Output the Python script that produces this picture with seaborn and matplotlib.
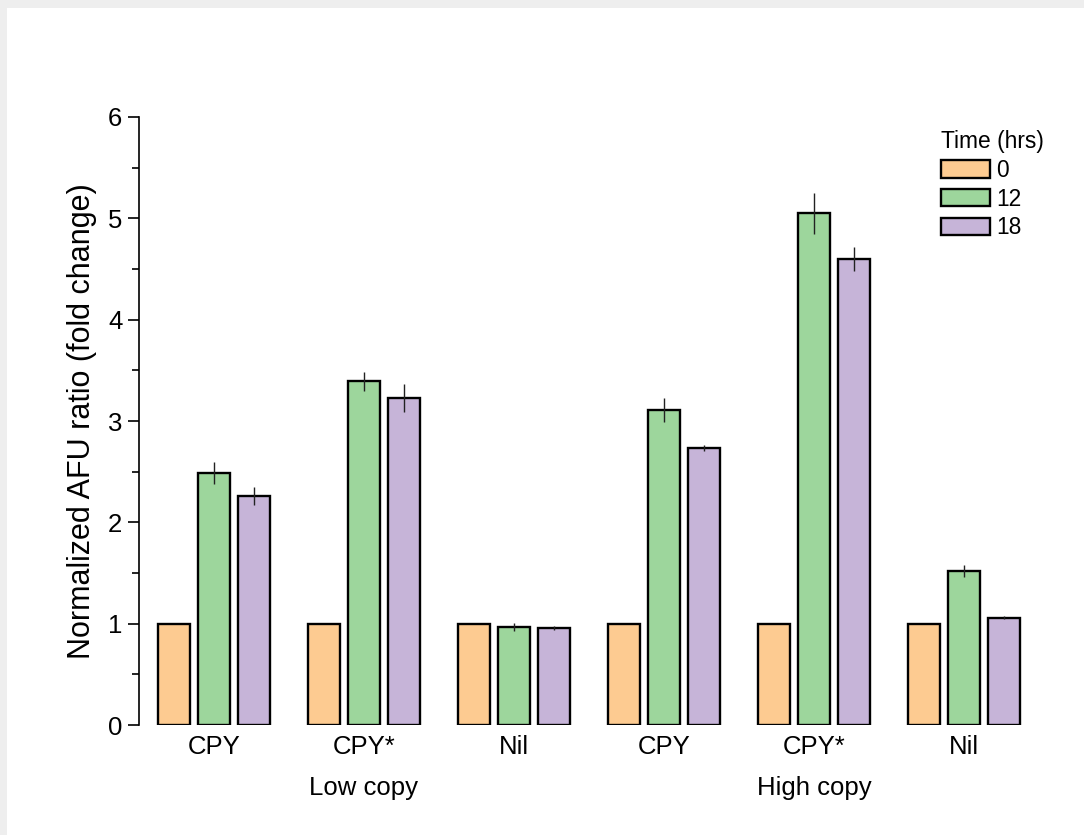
import numpy as np
import pandas as pd
import matplotlib
matplotlib.use("Agg")
import matplotlib.pyplot as plt
from matplotlib.patches import Rectangle, Patch
import seaborn as sns

# data
groups = ["Low copy", "High copy"]
constructs = ["CPY", "CPY*", "Nil"]
times = ["0", "12", "18"]

# values per time point, in order: Low CPY, Low CPY*, Low Nil, High CPY, High CPY*, High Nil
t0_vals = [1.0, 1.0, 1.0, 1.0, 1.0, 1.0]
t12_vals = [2.49, 3.39, 0.97, 3.11, 5.05, 1.52]
t18_vals = [2.26, 3.23, 0.96, 2.73, 4.60, 1.06]

t0_err = [0.0, 0.0, 0.0, 0.0, 0.0, 0.0]
t12_err = [0.11, 0.095, 0.04, 0.12, 0.20, 0.06]
t18_err = [0.09, 0.14, 0.02, 0.03, 0.12, 0.015]

palette = ["#FDCB91", "#9DD69C", "#C6B4D8"]

sns.set_theme(style="white")
plt.rcParams["font.family"] = ["Liberation Sans", "DejaVu Sans"]
plt.rcParams["text.color"] = "black"
plt.rcParams["axes.labelcolor"] = "black"
plt.rcParams["xtick.color"] = "black"
plt.rcParams["ytick.color"] = "black"

# long-format table
cats = [f"{g}|{c}" for g in groups for c in constructs]
rows = []
for t, vals, errs in zip(times, [t0_vals, t12_vals, t18_vals], [t0_err, t12_err, t18_err]):
    for cat, v, e in zip(cats, vals, errs):
        rows.append({"cat": cat, "time": t, "value": v, "err": e})
df = pd.DataFrame(rows)

fig = plt.figure(figsize=(10.84, 8.35), dpi=100)
fig.patch.set_facecolor("#eeeeee")
fig.add_artist(Rectangle((7 / 1084, 0), 1, (835 - 8) / 835, transform=fig.transFigure,
                         facecolor="white", edgecolor="none", zorder=-5))
ax = fig.add_axes([0.1282, 0.1317, 0.8303, 0.7282])
ax.set_facecolor("none")

sns.barplot(data=df, x="cat", y="value", hue="time", order=cats, hue_order=times,
            palette=palette, errorbar=None, width=0.8, gap=0.2,
            edgecolor="black", linewidth=1.7, saturation=1, ax=ax, legend=False)

# error bars, no caps
for container, t in zip(ax.containers, times):
    sub = df[df["time"] == t].set_index("cat").loc[cats]
    xs = [b.get_x() + b.get_width() / 2 for b in container]
    hs = [b.get_height() for b in container]
    errs = sub["err"].values
    mask = errs > 0
    ax.errorbar(np.array(xs)[mask], np.array(hs)[mask], yerr=errs[mask], fmt="none",
                ecolor="#222222", elinewidth=1.0, capsize=0, zorder=5)

ax.set_xlim(-0.5, 5.5)
ax.set_ylim(0, 6)
ax.set_yticks(range(0, 7))
ax.set_yticks(np.arange(0.5, 6, 1), minor=True)
ax.set_xticks(range(len(cats)))
ax.set_xticklabels(constructs * 2, fontsize=18.5)
ax.tick_params(axis="y", which="major", direction="out", length=8, width=1.2,
               left=True, labelsize=18.5, pad=4)
ax.tick_params(axis="y", which="minor", direction="out", length=5, width=1.2, left=True)
ax.tick_params(axis="x", length=0, pad=7)

for s in ["top", "right", "bottom"]:
    ax.spines[s].set_visible(False)
ax.spines["left"].set_color("black")
ax.spines["left"].set_linewidth(1.2)

ax.set_xlabel("")
ax.set_ylabel("Normalized AFU ratio (fold change)", fontsize=22, labelpad=8)

# group labels under the construct names
for i, g in enumerate(groups):
    ax.text(1 + 3 * i, -0.62, g, ha="center", va="center", fontsize=18.5,
            transform=ax.transData)

handles = [Patch(facecolor=c, edgecolor="black", linewidth=1.7) for c in palette]
leg = ax.legend(handles, times, title="Time (hrs)", loc="upper left",
                bbox_to_anchor=(0.879, 0.997), frameon=False, fontsize=16.4,
                title_fontsize=16.4, handlelength=2.15, handleheight=0.8,
                labelspacing=0.25, handletextpad=0.25, borderpad=0, alignment="left")

fig.savefig("out.png", dpi=100, facecolor=fig.get_facecolor())
